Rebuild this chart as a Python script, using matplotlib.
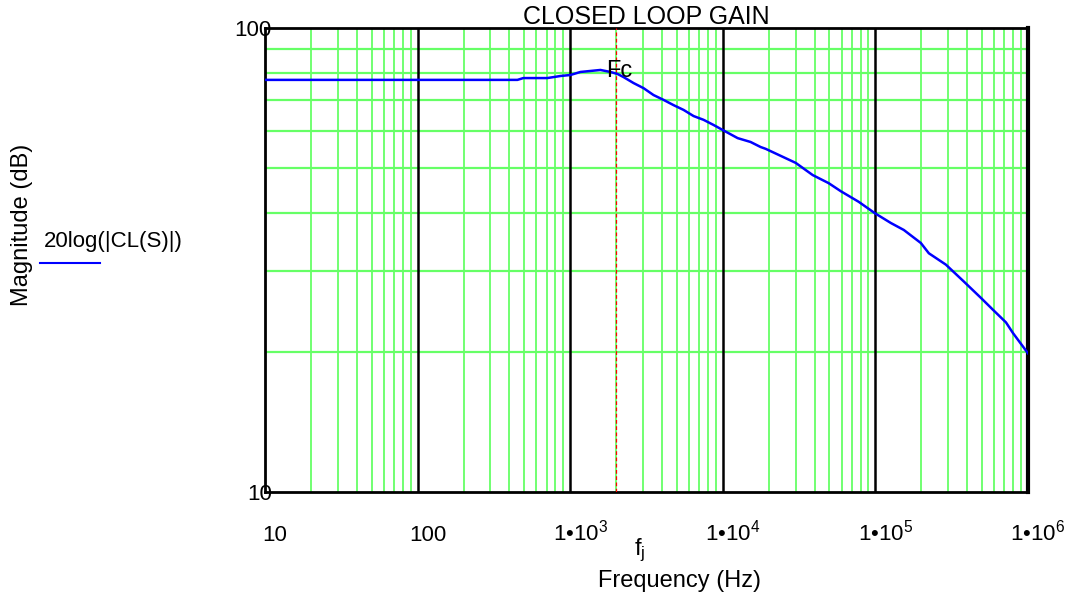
import numpy as np
import matplotlib
matplotlib.use('Agg')
import matplotlib.pyplot as plt
from matplotlib.lines import Line2D
from matplotlib.transforms import ScaledTranslation, blended_transform_factory

plt.rcParams['font.family'] = ['Liberation Sans', 'DejaVu Sans']
plt.rcParams['mathtext.fontset'] = 'custom'
plt.rcParams['mathtext.rm'] = 'Liberation Sans'
plt.rcParams['mathtext.it'] = 'Liberation Sans:italic'

# closed loop gain (Hz, "dB")
freq = [10, 451, 493, 708, 862, 1003, 1167, 1358, 1578, 1836, 2042, 2234,
        2600, 3023, 3515, 4089, 4756, 5532, 6434, 7482, 8703, 9970, 12510,
        15210, 17690, 19100, 30060, 38830, 49430, 59260, 77800, 99100,
        126200, 153600, 198600, 223900, 289700, 380500, 491600, 589500,
        717400, 797600, 1000000]
gain = [77.3, 77.3, 78.0, 78.0, 78.8, 79.2, 80.4, 80.8, 81.2, 80.4, 79.6,
        78.4, 76.1, 74.2, 71.7, 70.0, 68.2, 66.6, 64.6, 63.4, 61.8, 60.3,
        57.9, 56.8, 55.4, 54.9, 51.2, 48.2, 46.3, 44.5, 42.2, 39.9, 38.0,
        36.7, 34.4, 32.7, 30.9, 28.4, 26.2, 24.7, 23.2, 22.0, 19.9]

fc = 2000
xticks = [10, 100, 1e3, 1e4, 1e5, 1e6]
xticklabels = ['10', '100', r'1•10$^{3}$', r'1•10$^{4}$', r'1•10$^{5}$', r'1•10$^{6}$']
yticks = [10, 100]
yticklabels = ['10', '100']

W, H = 1066, 601
fig = plt.figure(figsize=(W / 100, H / 100), dpi=100)
ax = fig.add_axes([265 / W, 1 - 492 / H, 763 / W, 464 / H])
ax.set_xscale('log')
ax.set_yscale('log')
ax.set_xlim(10, 1e6)
ax.set_ylim(10, 100)

green = '#66ff66'
# minor grid, green
for dec in [10, 100, 1e3, 1e4, 1e5]:
    for k in range(2, 10):
        ax.axvline(dec * k, color=green, lw=1.3, zorder=1)
for k in range(2, 10):
    ax.axhline(10 * k, color=green, lw=1.6, zorder=1)
# decade lines, black
for d in [100, 1e3, 1e4, 1e5]:
    ax.axvline(d, color='black', lw=1.8, zorder=2)

ax.axvline(fc, color='red', lw=0.9, ls=(0, (3, 2)), zorder=3)
ax.plot(freq, gain, color='#0000ff', lw=1.8, zorder=4)
ax.text(fc * 0.86, 76.5, 'Fc', fontsize=17, ha='left', va='bottom', zorder=5)

for s in ax.spines.values():
    s.set_linewidth(2)
ax.spines['right'].set_linewidth(3)

ax.set_xticks([])
ax.xaxis.set_minor_locator(matplotlib.ticker.NullLocator())
ax.set_yticks(yticks)
ax.set_yticklabels(yticklabels, fontsize=16)
ax.yaxis.set_minor_locator(matplotlib.ticker.NullLocator())
ax.tick_params(axis='both', length=0)
ax.tick_params(axis='y', pad=-5)

# x tick labels on a common baseline, shifted right like the original
trans = blended_transform_factory(ax.transData, ax.transAxes) + \
    ScaledTranslation(0.10, -0.49, fig.dpi_scale_trans)
for xv, lab in zip(xticks, xticklabels):
    ax.text(xv, 0, lab, transform=trans, fontsize=16, ha='center', va='baseline')

fig.text(646 / W, 1 - 17 / H, 'CLOSED LOOP GAIN', fontsize=18, ha='center', va='center')
fig.text(22 / W, 1 - 225 / H, 'Magnitude (dB)', fontsize=17, rotation=90,
         ha='center', va='center')
fig.text(680 / W, 1 - 581 / H, 'Frequency (Hz)', fontsize=17, ha='center', va='center')
fig.text(640 / W, 1 - 550 / H, r'f$_{\mathregular{j}}$', fontsize=17, ha='center', va='center')

# legend
fig.text(44 / W, 1 - 242 / H, '20log(|CL(S)|)', fontsize=16, ha='left', va='center')
fig.add_artist(Line2D([40 / W, 100 / W], [1 - 263 / H, 1 - 263 / H],
                      color='#0000ff', lw=1.5, transform=fig.transFigure))

fig.savefig('out.png', dpi=100)
